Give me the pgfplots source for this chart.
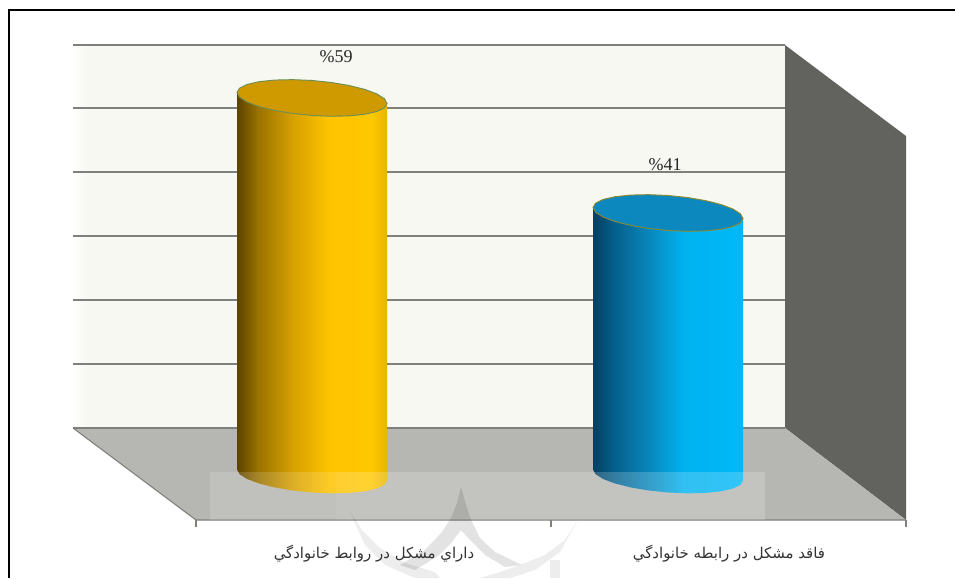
\documentclass[border=0pt]{standalone}
\usepackage{pgfplots}
\usepackage{pgfplotstable}
\usepackage{fontspec}
\pgfplotsset{compat=1.18}
\setmainfont{Liberation Serif}
\newfontfamily\arabicfont[Script=Arabic]{DejaVu Sans}
\TeXXeTstate=1

\definecolor{wallcol}{HTML}{F6F8F1}
\definecolor{gridcol}{HTML}{7F7F7B}
\definecolor{floorcol}{HTML}{B6B6B2}
\definecolor{sidecol}{HTML}{62625E}
\definecolor{goldcap}{HTML}{CE9A00}
\definecolor{goldedge}{HTML}{6F8F58}
\definecolor{bluecap}{HTML}{0C88BF}
\definecolor{blueedge}{HTML}{8C8A30}
\definecolor{golda}{HTML}{5C4300}
\definecolor{goldb}{HTML}{9A7200}
\definecolor{goldc}{HTML}{D8A200}
\definecolor{goldd}{HTML}{FFC400}
\definecolor{golde}{HTML}{FFC800}
\definecolor{goldf}{HTML}{E8B400}
\definecolor{bluea}{HTML}{033F60}
\definecolor{blueb}{HTML}{055F8C}
\definecolor{bluec}{HTML}{0888BE}
\definecolor{blued}{HTML}{00B2F0}
\definecolor{bluee}{HTML}{00B8F8}

\pgfdeclarehorizontalshading{goldbody}{100bp}{
  color(0bp)=(golda); color(25bp)=(golda);
  color(32bp)=(goldb); color(44bp)=(goldc);
  color(56bp)=(goldd); color(70bp)=(golde);
  color(75bp)=(goldf); color(100bp)=(goldf)}
\pgfdeclarehorizontalshading{bluebody}{100bp}{
  color(0bp)=(bluea); color(25bp)=(bluea);
  color(32bp)=(blueb); color(44bp)=(bluec);
  color(55bp)=(blued); color(75bp)=(bluee);
  color(100bp)=(bluee)}
\pgfdeclarehorizontalshading{wallbody}{100bp}{
  color(0bp)=(white); color(25bp)=(white);
  color(26bp)=(wallcol); color(100bp)=(wallcol)}

% outline of the front of a cylinder: f=1 sits at the bar's value, f=0 on the base
\pgfplotstableread{
dx dv f
-75.00 0.861 0
-72.44 0.123 0
-64.95 -0.624 0
-53.03 -1.328 0
-37.50 -1.941 0
-19.41 -2.423 0
0.00 -2.739 0
19.41 -2.869 0
37.50 -2.803 0
53.03 -2.546 0
64.95 -2.115 0
72.44 -1.541 0
75.00 -0.861 0
75.00 -0.861 1
-75.00 0.861 1
}\bodytable

\pgfplotstableread{
dx dv
75.00 -0.861
72.44 -0.123
64.95 0.624
53.03 1.328
37.50 1.941
19.41 2.423
0.00 2.739
-19.41 2.869
-37.50 2.803
-53.03 2.546
-64.95 2.115
-72.44 1.541
-75.00 0.861
-72.44 0.123
-64.95 -0.624
-53.03 -1.328
-37.50 -1.941
-19.41 -2.423
0.00 -2.739
19.41 -2.869
37.50 -2.803
53.03 -2.546
64.95 -2.115
72.44 -1.541
}\captable

\pgfplotsset{
  frame/.style={
    hide axis, scale only axis, width=716.25pt, height=433.5pt,
    xmin=0, xmax=955, clip=true},
  pixels/.style={frame, ymin=0, ymax=578, y dir=reverse},
  values/.style={frame, ymin=-16.12, ymax=74.33},
}

\begin{document}
\begin{tikzpicture}

% walls, floor and grid
\begin{axis}[pixels]
\addplot[fill=white, draw=none] coordinates {(0,0) (955,0) (955,578) (0,578)} --cycle;
\addplot[shading=wallbody, draw=none] coordinates {(73,45) (785,45) (785,428) (73,428)} --cycle;
\addplot[fill=sidecol, draw=none] coordinates {(785,45) (906,136) (906,520) (785,428)} --cycle;
\addplot[fill=floorcol, draw=none] coordinates {(73,428) (785,428) (906,520) (196,520)} --cycle;
\addplot[gridcol, line width=1.2pt] coordinates {(73,45) (785,45)};
\addplot[gridcol, line width=1.2pt] coordinates {(73,108) (785,108)};
\addplot[gridcol, line width=1.2pt] coordinates {(73,172) (785,172)};
\addplot[gridcol, line width=1.2pt] coordinates {(73,236) (785,236)};
\addplot[gridcol, line width=1.2pt] coordinates {(73,300) (785,300)};
\addplot[gridcol, line width=1.2pt] coordinates {(73,364) (785,364)};
\addplot[gridcol, line width=0.8pt] coordinates {(73,428) (785,428)};
\addplot[gridcol, line width=0.8pt] coordinates {(73,428) (196,520) (906,520)};
\addplot[gridcol, line width=0.8pt] coordinates {(196,520) (196,527)};
\addplot[gridcol, line width=0.8pt] coordinates {(551,520) (551,527)};
\addplot[gridcol, line width=0.8pt] coordinates {(906,520) (906,527)};
\addplot[black, line width=1.2pt] coordinates {(955,10) (9,10) (9,578)};
\end{axis}

% the two cylinders, y in percent
\begin{axis}[values]
\addplot[shading=goldbody, draw=none] table[x expr=\thisrow{dx}+312, y expr=\thisrow{dv}+59*\thisrow{f}] {\bodytable} --cycle;
\addplot[fill=goldcap, draw=goldedge, line width=0.7pt] table[x expr=\thisrow{dx}+312, y expr=\thisrow{dv}+59] {\captable} --cycle;
\addplot[shading=bluebody, draw=none] table[x expr=\thisrow{dx}+668, y expr=\thisrow{dv}+41*\thisrow{f}] {\bodytable} --cycle;
\addplot[fill=bluecap, draw=blueedge, line width=0.7pt] table[x expr=\thisrow{dx}+668, y expr=\thisrow{dv}+41] {\captable} --cycle;
\end{axis}

% pale overlay, watermark and the texts
\begin{axis}[pixels]
\addplot[fill=white, fill opacity=0.15, draw=none] coordinates {(210,472) (765,472) (765,520) (210,520)} --cycle;
\addplot[fill=white, fill opacity=0.05, draw=none] coordinates {(336,472) (765,472) (765,520) (336,520)} --cycle;
\addplot[fill=black, fill opacity=0.07, draw=none] coordinates {(350,512) (362,530) (380,548) (405,563) (435,572) (440,578) (415,578) (385,565) (365,545)} --cycle;
\addplot[fill=black, fill opacity=0.07, draw=none] coordinates {(578,520) (565,540) (545,555) (520,565) (500,572) (480,578) (510,578) (535,570) (560,552)} --cycle;
\addplot[fill=black, fill opacity=0.11, draw=none] coordinates {(461,487) (466,505) (471,520) (480,538) (495,552) (522,565) (505,567) (485,555) (470,540) (461,530) (452,542) (438,556) (415,570) (400,565) (425,550) (442,532) (451,518) (457,503)} --cycle;
\addplot[fill=black, fill opacity=0.07, draw=none] coordinates {(550,560) (560,560) (560,578) (550,578)} --cycle;
\node[text=black!85, font=\fontsize{13.5pt}{15pt}\selectfont] at (axis cs:336,57) {\%59};
\node[text=black!85, font=\fontsize{13.5pt}{15pt}\selectfont] at (axis cs:665,165) {\%41};
\node[text=black!80, font=\fontsize{11.2pt}{13pt}\selectfont] at (axis cs:374,554) {\arabicfont\beginR داراي مشكل در روابط خانوادگي\endR};
\node[text=black!80, font=\fontsize{11.2pt}{13pt}\selectfont] at (axis cs:729,554) {\arabicfont\beginR فاقد مشكل در رابطه خانوادگي\endR};
\end{axis}

\end{tikzpicture}
\end{document}
